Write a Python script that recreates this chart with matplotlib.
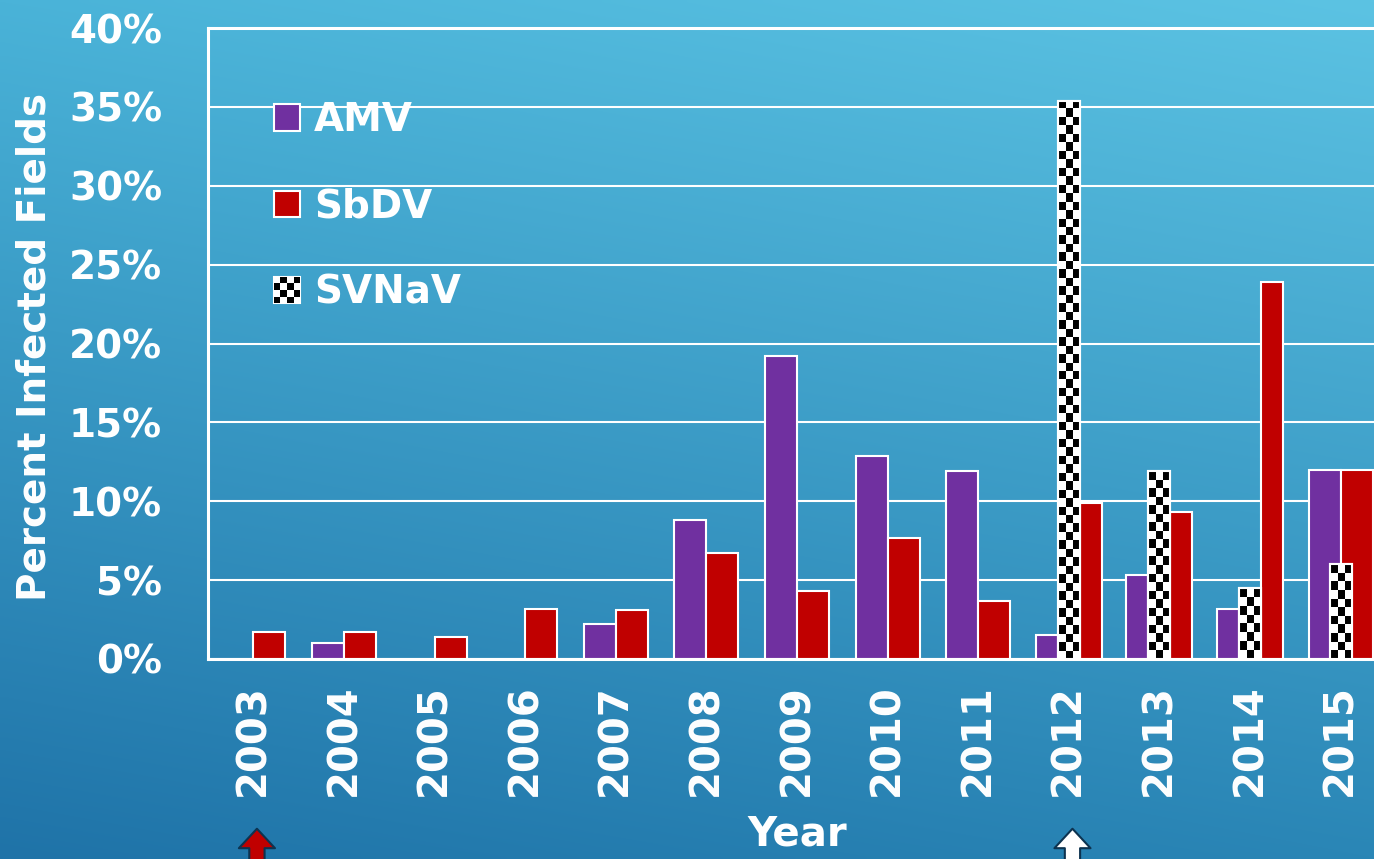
import numpy as np
import matplotlib
matplotlib.use('Agg')
import matplotlib.pyplot as plt
from matplotlib.patches import Rectangle, Patch
from matplotlib.legend_handler import HandlerBase

# ----------------------------------------------------------------------------------------------------------------------
# Data (fraction of fields).
# ----------------------------------------------------------------------------------------------------------------------
years = ['2003', '2004', '2005', '2006', '2007', '2008', '2009',
         '2010', '2011', '2012', '2013', '2014', '2015']
amv = [0.0, 0.010, 0.0, 0.0, 0.022, 0.088, 0.192, 0.129, 0.119, 0.015, 0.053, 0.032, 0.120]
sbdv = [0.017, 0.017, 0.014, 0.032, 0.031, 0.067, 0.043, 0.077, 0.037, 0.099, 0.093, 0.239, 0.120]
svnav = [None, None, None, None, None, None, None, None, None, 0.354, 0.119, 0.045, 0.060]
yticks = [0, 0.05, 0.10, 0.15, 0.20, 0.25, 0.30, 0.35, 0.40]
ytick_labels = ['0%', '5%', '10%', '15%', '20%', '25%', '30%', '35%', '40%']

AMV_C = '#7030a0'
SBDV_C = '#c00000'
W2 = 0.353   # bar width when two bars share a year
W3 = 0.243   # bar width when three bars share a year
CELL = 8.5   # checker cell in pixels

plt.rcParams['font.family'] = ['DejaVu Sans']
plt.rcParams['font.weight'] = 'bold'

fig = plt.figure(figsize=(13.74, 8.59), dpi=100)

# background gradient
bg = fig.add_axes([0, 0, 1, 1], zorder=-10)
tl, tr = np.array([74, 179, 216]), np.array([92, 195, 227])
bl, br = np.array([31, 115, 168]), np.array([42, 134, 182])
yy, xx = np.mgrid[0:1:200j, 0:1:200j]
grad = ((1 - yy)[..., None] * ((1 - xx)[..., None] * tl + xx[..., None] * tr)
        + yy[..., None] * ((1 - xx)[..., None] * bl + xx[..., None] * br)) / 255.0
bg.imshow(grad, aspect='auto', extent=[0, 1, 0, 1], interpolation='bilinear')
bg.axis('off')

ax = fig.add_axes([208 / 1374, 200 / 859, 1178 / 1374, 631 / 859])
ax.patch.set_alpha(0)
ax.set_xlim(-0.5, len(years) - 0.5)
ax.set_ylim(0, 0.40)


def checker_bar(x0, width, value, zorder):
    base = ax.bar(x0, value, width, align='edge', color='white', edgecolor='white',
                  linewidth=1.5, zorder=zorder)[0]
    p0 = ax.transData.transform((x0, 0))
    p1 = ax.transData.transform((x0 + width, value))
    nx = max(1, int(round((p1[0] - p0[0]) / CELL)))
    ny = max(1, int(round((p1[1] - p0[1]) / CELL)))
    arr = (np.add.outer(np.arange(ny), np.arange(nx)) % 2).astype(float)
    im = ax.imshow(arr, cmap='gray', extent=[x0, x0 + width, 0, value], aspect='auto',
                   interpolation='nearest', zorder=zorder + 0.1, vmin=0, vmax=1)
    im.set_clip_path(base)
    ax.bar(x0, value, width, align='edge', fill=False, edgecolor='white',
           linewidth=1.5, zorder=zorder + 0.2)


for i, y in enumerate(years):
    if svnav[i] is not None and y != '2015':
        ax.bar(i - 1.5 * W3, amv[i], W3, align='edge', color=AMV_C, edgecolor='white', linewidth=1.5, zorder=2)
        ax.bar(i + 0.5 * W3, sbdv[i], W3, align='edge', color=SBDV_C, edgecolor='white', linewidth=1.5, zorder=2)
        checker_bar(i - 0.5 * W3, W3, svnav[i], 3)
    else:
        if amv[i] > 0:
            ax.bar(i - W2, amv[i], W2, align='edge', color=AMV_C, edgecolor='white', linewidth=1.5, zorder=2)
        ax.bar(i, sbdv[i], W2, align='edge', color=SBDV_C, edgecolor='white', linewidth=1.5, zorder=2)
        if svnav[i] is not None:
            checker_bar(i - 0.5 * W3, W3, svnav[i], 3)

ax.set_xlim(-0.5, len(years) - 0.5)
ax.set_ylim(0, 0.40)

# axes styling
ax.set_yticks(yticks)
ax.set_yticklabels(ytick_labels)
ax.set_xticks(range(len(years)))
ax.set_xticklabels(years, rotation=90)
ax.tick_params(axis='y', length=0, pad=33, labelsize=28, labelcolor='white')
ax.tick_params(axis='x', length=0, pad=18, labelsize=29, labelcolor='white')
ax.yaxis.grid(True, color='white', linewidth=1.5)
ax.set_axisbelow(True)
for s in ['left', 'top', 'bottom']:
    ax.spines[s].set_color('white')
    ax.spines[s].set_linewidth(2.2)
ax.spines['right'].set_visible(False)

ax.set_ylabel('Percent Infected Fields', fontsize=28, color='white', fontweight='bold')
ax.yaxis.set_label_coords(-0.131, 0.495)
ax.set_xlabel('Year', fontsize=29, color='white', fontweight='bold')
ax.xaxis.set_label_coords(0.5, -0.247)


# legend with a checker handle
class HandlerChecker(HandlerBase):
    def create_artists(self, legend, orig_handle, xdescent, ydescent, width, height, fontsize, trans):
        arts = [Rectangle((-xdescent, -ydescent), width, height, facecolor='white',
                          edgecolor='white', linewidth=1.5, transform=trans)]
        n = 4
        cw, ch = width / n, height / n
        for r in range(n):
            for c in range(n):
                if (r + c) % 2 == 0:
                    arts.append(Rectangle((-xdescent + c * cw, -ydescent + r * ch), cw, ch,
                                          facecolor='black', edgecolor='none', transform=trans))
        return arts


h_amv = Patch(facecolor=AMV_C, edgecolor='white', linewidth=1.5)
h_sbdv = Patch(facecolor=SBDV_C, edgecolor='white', linewidth=1.5)
h_sv = Patch(facecolor='white')
leg = ax.legend([h_amv, h_sbdv, h_sv], ['AMV', 'SbDV', 'SVNaV'],
                handler_map={h_sv: HandlerChecker()},
                loc='upper left', bbox_to_anchor=(0.056, 0.884), frameon=False,
                fontsize=28, labelcolor='white', handlelength=0.67, handleheight=0.67,
                handletextpad=0.36, labelspacing=1.24, borderpad=0, borderaxespad=0)
for t in leg.get_texts():
    t.set_fontweight('bold')

# arrows under 2003 and 2012
for xi, col in [(0, SBDV_C), (9, 'white')]:
    ax.annotate('', xy=(xi + 0.04, -0.269), xytext=(xi + 0.04, -0.37),
                xycoords=('data', 'axes fraction'), textcoords=('data', 'axes fraction'),
                annotation_clip=False,
                arrowprops=dict(arrowstyle='simple,head_length=1.4,head_width=2.6,tail_width=1.1',
                                mutation_scale=10, facecolor=col, edgecolor='#0d3350',
                                linewidth=1.5, shrinkA=0, shrinkB=0))

fig.savefig('out.png', dpi=100)
